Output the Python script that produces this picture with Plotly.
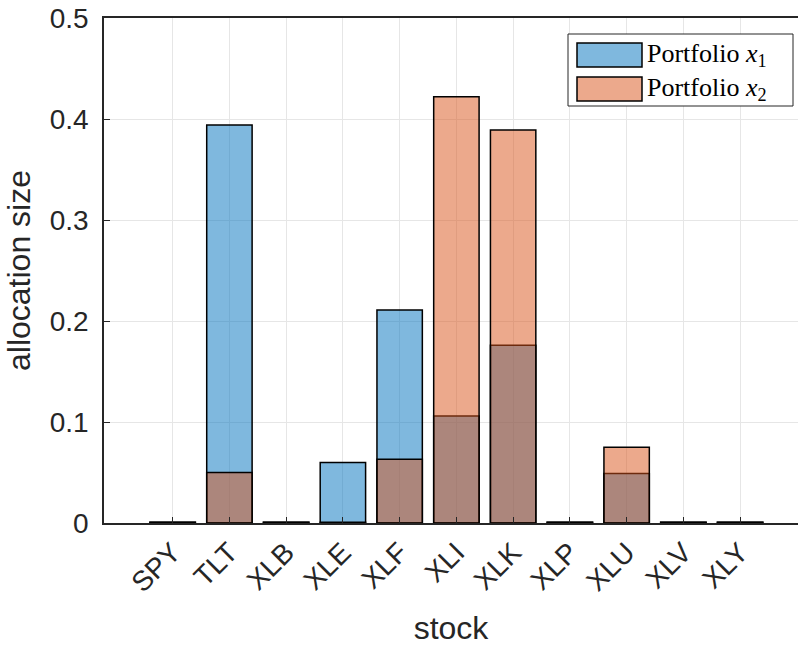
import plotly.graph_objects as go

stocks = ["SPY", "TLT", "XLB", "XLE", "XLF", "XLI", "XLK", "XLP", "XLU", "XLV", "XLY"]
portfolio_x1 = [0.0, 0.394, 0.0, 0.060, 0.211, 0.106, 0.176, 0.0, 0.049, 0.0, 0.0]
portfolio_x2 = [0.0, 0.050, 0.0, 0.0, 0.063, 0.422, 0.389, 0.0, 0.075, 0.0, 0.0]
series_names = ["Portfolio <i>x</i><sub>1</sub>", "Portfolio <i>x</i><sub>2</sub>"]
y_ticks = [0, 0.1, 0.2, 0.3, 0.4, 0.5]
y_tick_labels = ["0", "0.1", "0.2", "0.3", "0.4", "0.5"]

colors = ["rgba(0,114,189,0.5)", "rgba(217,83,25,0.5)"]

# zero-height bars are drawn by MATLAB as a flat outline; keep them visible
def visible(vals):
    return [v if v > 0 else 0.0008 for v in vals]

fig = go.Figure()
for vals, name, col in zip([portfolio_x1, portfolio_x2], series_names, colors):
    fig.add_trace(go.Bar(
        x=list(range(len(stocks))), y=visible(vals),
        name=name, width=0.8, showlegend=False,
        marker=dict(color=col, line=dict(color="black", width=1.5)),
    ))

W, H = 798, 646
L, R, T, B = 104, 0, 18, 123
pw, ph = W - L - R, H - T - B

def px(x):
    return (x - L) / pw

def py(y):
    return (H - B - y) / ph

# MATLAB-style legend box with large swatches
shapes = [dict(type="rect", xref="paper", yref="paper",
               x0=px(568), x1=px(793), y0=py(106), y1=py(34),
               fillcolor="white", line=dict(color="#262626", width=1), layer="above")]
annotations = []
rows = [(43, 67), (77, 101)]
for (y0, y1), name, col in zip(rows, series_names, colors):
    shapes.append(dict(type="rect", xref="paper", yref="paper",
                       x0=px(577), x1=px(642), y0=py(y1), y1=py(y0),
                       fillcolor=col, line=dict(color="black", width=1.5), layer="above"))
    annotations.append(dict(xref="paper", yref="paper", x=px(645), y=py((y0 + y1) / 2),
                            xanchor="left", yanchor="middle", showarrow=False, text=name,
                            font=dict(family="Liberation Serif, Times New Roman, serif", size=26, color="black")))

sans = "Liberation Sans, Arial, sans-serif"
tick_font = dict(family=sans, size=28, color="#262626")
title_font = dict(family=sans, size=32, color="#262626")
fig.update_layout(
    width=W, height=H,
    margin=dict(l=L, r=R, t=T, b=B, autoexpand=False),
    barmode="overlay",
    plot_bgcolor="white", paper_bgcolor="white",
    font=tick_font,
    shapes=shapes, annotations=annotations,
    xaxis=dict(
        tickmode="array", tickvals=list(range(len(stocks))), ticktext=stocks,
        range=[-1.21, 11.02], tickangle=-45,
        showgrid=True, gridcolor="#e6e6e6", gridwidth=1,
        showline=True, linecolor="#262626", linewidth=1.5, mirror=True,
        ticks="inside", ticklen=6, tickcolor="#262626",
        tickfont=tick_font, automargin=False,
        title=dict(text="stock", font=title_font, standoff=19),
        zeroline=False,
    ),
    yaxis=dict(
        tickmode="array", tickvals=y_ticks, ticktext=y_tick_labels,
        range=[0, 0.5],
        showgrid=True, gridcolor="#e6e6e6", gridwidth=1,
        showline=True, linecolor="#262626", linewidth=1.5,
        ticks="inside", ticklen=6, tickcolor="#262626",
        tickfont=tick_font, automargin=False, ticklabelstandoff=8,
        title=dict(text="allocation size", font=title_font, standoff=10),
        zeroline=False,
    ),
)

fig.write_html("out.html", config={"displayModeBar": False},
               post_script="document.body.style.margin='0';")
